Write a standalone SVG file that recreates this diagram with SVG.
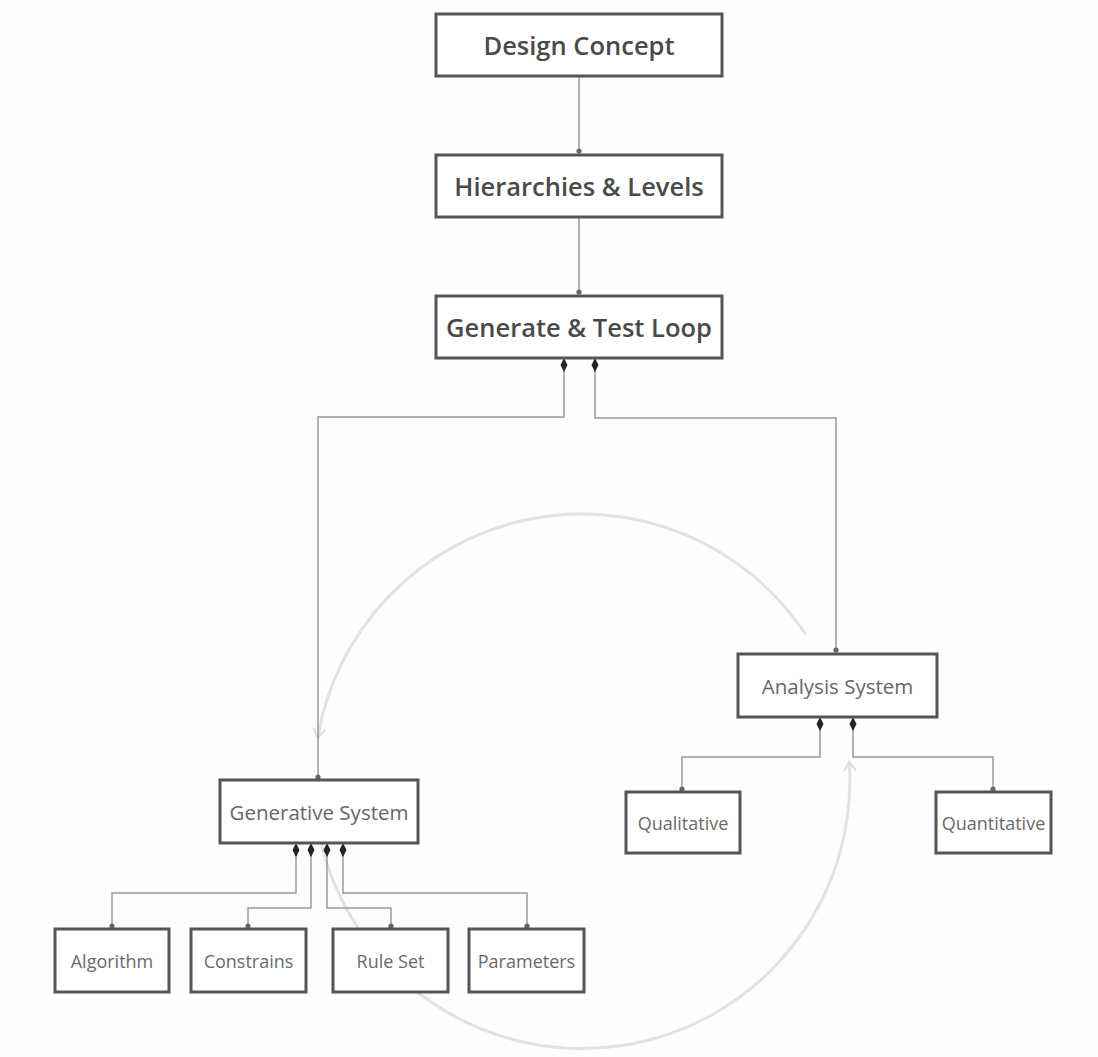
<svg xmlns="http://www.w3.org/2000/svg" width="1098" height="1057" viewBox="0 0 1098 1057">
<style>
.box{fill:#ffffff;stroke:#555;stroke-width:3}
.t{font-family:"Open Sans","Liberation Sans",sans-serif;text-anchor:middle;dominant-baseline:central}
.big{font-size:25.5px;font-weight:600;fill:#4a4a4a}
.mid{font-size:20.5px;fill:#666}
.sm{font-size:18px;fill:#6a6a6a}
.con{fill:none;stroke:#9a9a9a;stroke-width:1.5}
.arc{fill:none;stroke:#e2e2e2;stroke-width:3}
</style>
<defs>
<marker id="dia" viewBox="0 -4 14 8" refX="0" refY="0" markerWidth="14" markerHeight="8" markerUnits="userSpaceOnUse" orient="auto">
<path d="M0,0 L7,-3.5 L14,0 L7,3.5 Z" fill="#222"/>
</marker>
<marker id="dot" viewBox="-3 -3 6 6" refX="0" refY="0" markerWidth="6" markerHeight="6" markerUnits="userSpaceOnUse" orient="auto">
<circle cx="0" cy="0" r="2.6" fill="#666"/>
</marker>
<marker id="chev" viewBox="-10 -7 12 14" refX="0" refY="0" markerWidth="12" markerHeight="14" markerUnits="userSpaceOnUse" orient="auto">
<path d="M-9,-6 L0,0 L-9,6" fill="none" stroke="#dcdcdc" stroke-width="2"/>
</marker>
</defs>
<rect x="0" y="0" width="1098" height="1057" fill="#fdfdfd"/>
<g id="cycle">
<path class="arc" d="M805.8,634.5 A268,268 0 0 0 317.7,737.8" marker-end="url(#chev)"/>
<path class="arc" d="M321,842 A268,268 0 0 0 849.2,761.9" marker-end="url(#chev)"/>
</g>
<g id="connectors">
<path class="con" d="M579,76 V151" marker-end="url(#dot)"/>
<path class="con" d="M579,217 V292" marker-end="url(#dot)"/>
<path class="con" d="M564,358 V417 H318 V777" marker-start="url(#dia)" marker-end="url(#dot)"/>
<path class="con" d="M595,358 V418 H836 V650" marker-start="url(#dia)" marker-end="url(#dot)"/>
<path class="con" d="M296,843 V893 H112 V926" marker-start="url(#dia)" marker-end="url(#dot)"/>
<path class="con" d="M311,843 V908 H248 V926" marker-start="url(#dia)" marker-end="url(#dot)"/>
<path class="con" d="M327,843 V908 H391 V926" marker-start="url(#dia)" marker-end="url(#dot)"/>
<path class="con" d="M343,843 V893 H527 V926" marker-start="url(#dia)" marker-end="url(#dot)"/>
<path class="con" d="M820,717 V757 H682 V789" marker-start="url(#dia)" marker-end="url(#dot)"/>
<path class="con" d="M853,717 V757 H993 V789" marker-start="url(#dia)" marker-end="url(#dot)"/>
</g>
<g id="design-concept"><rect class="box" x="436" y="14" width="286" height="62"/><text class="t big" x="579" y="45">Design Concept</text></g>
<g id="hierarchies"><rect class="box" x="436" y="155" width="286" height="62"/><text class="t big" x="579" y="186">Hierarchies &amp; Levels</text></g>
<g id="generate-test"><rect class="box" x="436" y="296" width="286" height="62"/><text class="t big" x="579" y="327">Generate &amp; Test Loop</text></g>
<g id="analysis-system"><rect class="box" x="738" y="654" width="199" height="63"/><text class="t mid" x="837.5" y="686">Analysis System</text></g>
<g id="generative-system"><rect class="box" x="220" y="780" width="198" height="63"/><text class="t mid" x="319" y="812">Generative System</text></g>
<g id="qualitative"><rect class="box" x="626" y="792" width="114" height="61"/><text class="t sm" x="683" y="823">Qualitative</text></g>
<g id="quantitative"><rect class="box" x="936" y="792" width="115" height="61"/><text class="t sm" x="993.5" y="823">Quantitative</text></g>
<g id="algorithm"><rect class="box" x="55" y="929" width="114" height="63"/><text class="t sm" x="112" y="961">Algorithm</text></g>
<g id="constrains"><rect class="box" x="191" y="929" width="115" height="63"/><text class="t sm" x="248.5" y="961">Constrains</text></g>
<g id="rule-set"><rect class="box" x="333" y="929" width="115" height="63"/><text class="t sm" x="390.5" y="961">Rule Set</text></g>
<g id="parameters"><rect class="box" x="469" y="929" width="115" height="63"/><text class="t sm" x="526.5" y="961">Parameters</text></g>
</svg>
